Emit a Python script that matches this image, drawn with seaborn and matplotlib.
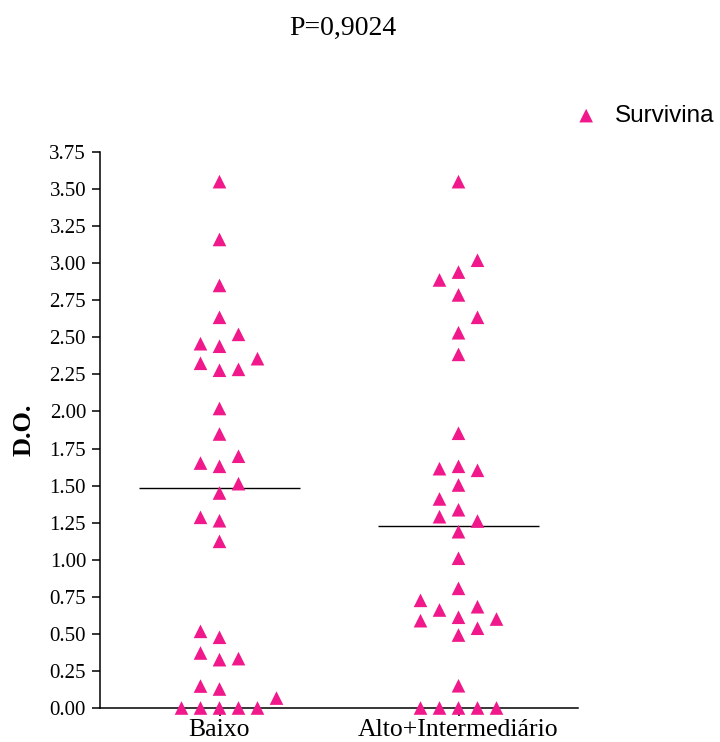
import numpy as np
import pandas as pd
import matplotlib
matplotlib.use('Agg')
import matplotlib.pyplot as plt
import seaborn as sns

sns.set_style('ticks', {'axes.edgecolor': 'black', 'xtick.color': 'black',
                        'ytick.color': 'black', 'text.color': 'black',
                        'axes.labelcolor': 'black'})
plt.rcParams['font.family'] = ['Liberation Serif', 'DejaVu Serif']

# data (order = entry order, used by the column layout)
groups = ['Baixo', 'Alto+Intermediário']
baixo_do = [3.55, 3.16, 2.85, 2.635, 2.44, 2.278, 2.02, 1.848, 1.63, 1.45, 1.263, 1.124,
            0.477, 0.326, 0.128, 0.00,
            2.52, 2.457, 2.284, 2.325, 2.356, 1.652, 1.698, 1.513, 1.286,
            0.333, 0.517, 0.371, 0.148, 0.00, 0.00, 0.00, 0.00, 0.067]
alto_do = [3.55, 2.94, 2.786, 2.531, 2.385, 1.853, 1.63, 1.504, 1.337, 1.189, 1.01, 0.807,
           0.612, 0.492, 0.15, 0.00,
           3.02, 2.887, 2.635, 1.614, 1.603, 1.41, 1.261, 1.29, 0.00, 0.00,
           0.538, 0.661, 0.683, 0.60, 0.726, 0.589, 0.00, 0.00]
series_name = 'Survivina'
p_text = 'P=0,9024'
y_label = 'D.O.'

pink = '#F0188A'


def column_slots(values, gap=0.11):
    # prism-like dot layout: each point goes to the nearest free column
    placed = {}
    slots = []
    for v in values:
        k = 0
        while True:
            cands = [0] if k == 0 else [k, -k]
            best, best_d = None, -1
            for s in cands:
                d = min([abs(v - p) for p in placed.get(s, [])], default=np.inf)
                if d >= gap and d > best_d:
                    best, best_d = s, d
            if best is not None:
                break
            k += 1
        placed.setdefault(best, []).append(v)
        slots.append(best)
    return np.array(slots)


step = 0.0795
frames = []
for i, (g, vals) in enumerate(zip(groups, [baixo_do, alto_do])):
    d = pd.DataFrame({'grupo': g, 'DO': vals})
    d['x'] = i + column_slots(vals) * step
    frames.append(d)
df = pd.concat(frames, ignore_index=True)

fig = plt.figure(figsize=(7.2, 7.42), dpi=100)
ax = fig.add_axes([100 / 720, 34 / 742, 478 / 720, 556 / 742])

sns.scatterplot(data=df, x='x', y='DO', marker='^', s=96, color=pink,
                edgecolor='none', linewidth=0, clip_on=False, zorder=3,
                label=series_name, ax=ax)

# median lines
for i, g in enumerate(groups):
    med = df.loc[df.grupo == g, 'DO'].median()
    ax.hlines(med, i - 0.335, i + 0.335, color='black', lw=1.0, zorder=2)

ax.set_xlim(-0.5, 1.5)
ax.set_ylim(0, 3.75)
ax.set_yticks(np.arange(0, 3.76, 0.25))
ax.yaxis.set_major_formatter(matplotlib.ticker.FormatStrFormatter('%.2f'))
ax.set_xticks(range(len(groups)))
ax.set_xticklabels(groups)
ax.set_xlabel('')
ax.set_ylabel(y_label, fontsize=19, fontweight='bold', va='center')
ax.yaxis.set_label_coords(-0.159, 0.5)

sns.despine(ax=ax)
for sp in ['left', 'bottom']:
    ax.spines[sp].set_linewidth(1.1)
ax.tick_params(axis='y', direction='out', length=6, width=1.1, labelsize=15, pad=4)
ax.tick_params(axis='x', direction='out', length=6, width=1.1, labelsize=18.5, pad=2)

ax.legend(loc='center left', bbox_to_anchor=(574 / 720, 1 - 116 / 742),
          bbox_transform=fig.transFigure, frameon=False, borderpad=0,
          borderaxespad=0, handlelength=1.0, handletextpad=0.7,
          prop={'family': 'Liberation Sans', 'size': 17.5})

fig.text(343 / 720, 1 - 35 / 742, p_text, ha='center', va='baseline', fontsize=20)

fig.savefig('out.png', dpi=100)
